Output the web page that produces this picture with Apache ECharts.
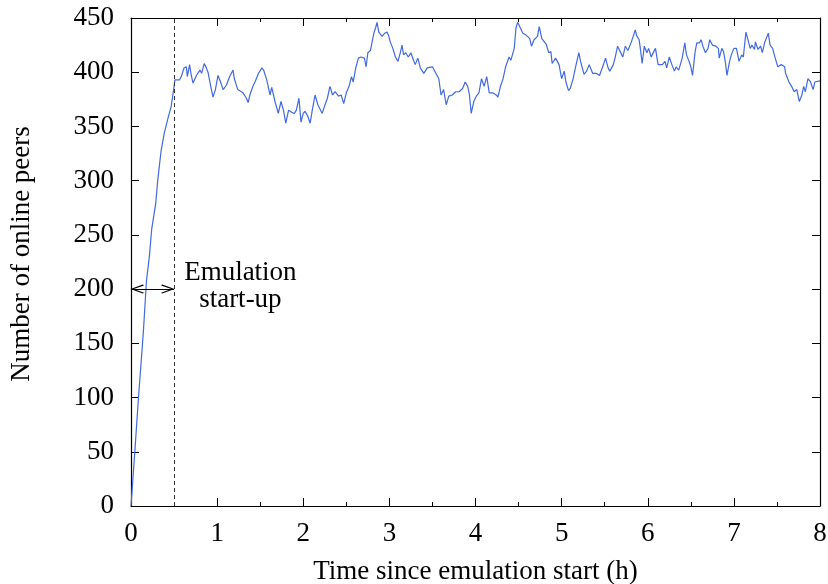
<!DOCTYPE html>
<html>
<head>
<meta charset="utf-8">
<script src="https://cdn.jsdelivr.net/npm/echarts@6/dist/echarts.min.js"></script>
<style>html,body{margin:0;padding:0;background:#fff}#c{width:828px;height:584px}</style>
</head>
<body>
<div id="c"></div>
<script>
const timeH = [0,0.046,0.085,0.143,0.18,0.213,0.24,0.287,0.31,0.35,0.387,0.434,0.465,0.49,0.51,0.526,0.565,0.584,0.616,0.643,0.654,0.68,0.70,0.72,0.76,0.80,0.82,0.85,0.875,0.894,0.926,0.952,0.98,1.01,1.04,1.07,1.107,1.146,1.185,1.20,1.24,1.30,1.34,1.36,1.38,1.42,1.44,1.48,1.52,1.54,1.576,1.614,1.634,1.672,1.71,1.742,1.77,1.797,1.83,1.866,1.897,1.92,1.95,1.974,2.0,2.02,2.05,2.08,2.105,2.137,2.17,2.19,2.22,2.24,2.28,2.31,2.34,2.37,2.41,2.44,2.47,2.5,2.532,2.56,2.58,2.61,2.64,2.67,2.71,2.73,2.75,2.78,2.80,2.82,2.84,2.857,2.877,2.915,2.946,2.973,2.99,3.01,3.04,3.07,3.10,3.13,3.147,3.165,3.19,3.22,3.25,3.28,3.30,3.33,3.36,3.40,3.44,3.50,3.54,3.574,3.60,3.63,3.66,3.69,3.73,3.77,3.81,3.85,3.87,3.88,3.91,3.93,3.95,3.98,4.01,4.04,4.07,4.10,4.13,4.16,4.20,4.24,4.26,4.29,4.32,4.35,4.39,4.41,4.45,4.47,4.49,4.52,4.55,4.59,4.63,4.65,4.68,4.72,4.74,4.77,4.82,4.85,4.875,4.89,4.93,4.97,5.0,5.03,5.05,5.08,5.10,5.13,5.16,5.20,5.22,5.26,5.29,5.32,5.36,5.40,5.44,5.46,5.49,5.51,5.54,5.56,5.60,5.62,5.635,5.65,5.68,5.71,5.74,5.77,5.81,5.835,5.855,5.87,5.90,5.92,5.935,5.96,5.99,6.01,6.04,6.07,6.09,6.12,6.14,6.17,6.20,6.22,6.25,6.28,6.31,6.33,6.36,6.40,6.43,6.45,6.48,6.50,6.52,6.55,6.57,6.60,6.62,6.64,6.67,6.70,6.72,6.75,6.77,6.79,6.82,6.83,6.86,6.88,6.90,6.92,6.95,6.97,7.00,7.03,7.06,7.09,7.11,7.14,7.16,7.19,7.21,7.24,7.25,7.28,7.31,7.33,7.36,7.40,7.42,7.45,7.48,7.51,7.55,7.59,7.60,7.64,7.67,7.70,7.73,7.76,7.79,7.81,7.83,7.86,7.89,7.92,7.94,7.96,8.0];
const peers = [0,52,98,160,208,230,255,279,300,328,344,359,368,381,393,394,393,396,404,405,396,407,397,390,397,402,399,408,404,400,387,377,384,397,391,384,388,396,402,394,384,381,376,372,379,388,391,399,404,402,393,379,386,373,362,373,365,353,365,363,362,365,376,354,362,364,360,353,365,379,370,370,362,367,376,387,379,382,378,379,371,381,387,396,391,404,413,414,413,405,418,420,419,436,441,446,437,433,436,437,434,428,422,414,410,419,425,416,418,414,418,411,407,413,404,399,404,405,399,394,379,384,370,378,379,382,382,385,384,391,387,379,362,373,378,381,394,387,396,381,381,379,377,387,394,405,414,411,422,441,446,441,436,434,431,424,430,433,442,431,426,418,419,408,413,407,394,401,391,383,385,393,404,418,410,398,401,407,399,399,397,396,408,413,404,401,407,413,414,424,419,414,424,420,428,434,439,434,430,418,408,424,418,422,414,419,422,407,408,407,410,404,414,407,401,405,402,413,427,416,410,405,397,419,427,427,430,424,418,422,430,425,424,424,422,413,422,419,410,397,410,416,422,422,410,416,414,437,431,422,425,421,428,421,424,418,428,436,425,422,413,405,407,405,399,391,387,382,384,373,379,387,382,394,391,384,391,390,392];

const startupEnd = 0.5;
const arrowLevel = 200;
const annotationText = 'Emulation\nstart-up';
const xName = 'Time since emulation start (h)';
const yName = 'Number of online peers';

const FONT = 'Liberation Serif';
const FS = 27;
const chart = echarts.init(document.getElementById('c'), null, {renderer: 'canvas'});
// open chevron whose tip sits at the symbol centre (zero-area subpath pads the box)
const chevron = 'path://M5,0 L5,0.001 M5,10 L10,20 L9,20.9 L5,12.7 L1,20.9 L0,20 Z';
const axisCommon = {
  axisLine: {show: true, onZero: false, lineStyle: {color: '#000', width: 1.2}},
  axisTick: {show: true, inside: true, length: 8, lineStyle: {color: '#000', width: 1}},
  splitLine: {show: false}
};
chart.setOption({
  animation: false,
  backgroundColor: '#fff',
  grid: {left: 131, right: 8, top: 18, bottom: 78, containLabel: false, outerBoundsMode: 'none'},
  xAxis: [
    Object.assign({}, axisCommon, {
      type: 'value', min: 0, max: 8, interval: 1, position: 'bottom',
      name: xName, nameLocation: 'middle', nameGap: 52,
      nameTextStyle: {fontFamily: FONT, fontSize: FS, color: '#000'},
      axisLabel: {fontFamily: FONT, fontSize: FS, color: '#000', margin: 14},
      minorTick: {show: true, splitNumber: 2, length: 4, lineStyle: {color: '#000', width: 1}}
    }),
    Object.assign({}, axisCommon, {
      type: 'value', min: 0, max: 8, interval: 1, position: 'top',
      axisLabel: {show: false},
      minorTick: {show: true, splitNumber: 2, length: 4, lineStyle: {color: '#000', width: 1}}
    })
  ],
  yAxis: [
    Object.assign({}, axisCommon, {
      type: 'value', min: 0, max: 450, interval: 50, position: 'left',
      name: yName, nameLocation: 'middle', nameGap: 96, nameRotate: 90,
      nameTextStyle: {fontFamily: FONT, fontSize: FS, color: '#000', padding: [0, 0, 0, 16]},
      axisLabel: {fontFamily: FONT, fontSize: FS, color: '#000', margin: 17}
    }),
    Object.assign({}, axisCommon, {
      type: 'value', min: 0, max: 450, interval: 50, position: 'right',
      axisLabel: {show: false}
    })
  ],
  series: [{
    type: 'line',
    xAxisIndex: 0, yAxisIndex: 0,
    data: timeH.map((t, i) => [t, peers[i]]),
    showSymbol: false,
    symbol: 'none',
    lineStyle: {color: '#4169e1', width: 1.2},
    markLine: {
      silent: true,
      label: {show: false},
      data: [
        [{coord: [startupEnd, 0], symbol: 'none'}, {coord: [startupEnd, 450], symbol: 'none',
          lineStyle: {color: '#333', width: 1, type: [4, 3]}}],
        [{coord: [0, arrowLevel], symbol: chevron, symbolSize: [9, 26]},
         {coord: [startupEnd, arrowLevel], symbol: chevron, symbolSize: [9, 26],
          lineStyle: {color: '#000', width: 1.2, type: 'solid'}}]
      ],
      lineStyle: {color: '#000', width: 1.2, type: 'solid'},
      itemStyle: {color: '#000'}
    },
    markPoint: {
      silent: true,
      data: [{coord: [1.27, 202.5], symbol: 'circle', symbolSize: 0,
        label: {show: true, position: 'inside', formatter: annotationText,
          fontFamily: FONT, fontSize: FS, lineHeight: 27, color: '#000', align: 'center'}}]
    }
  }]
});
</script>
</body>
</html>
